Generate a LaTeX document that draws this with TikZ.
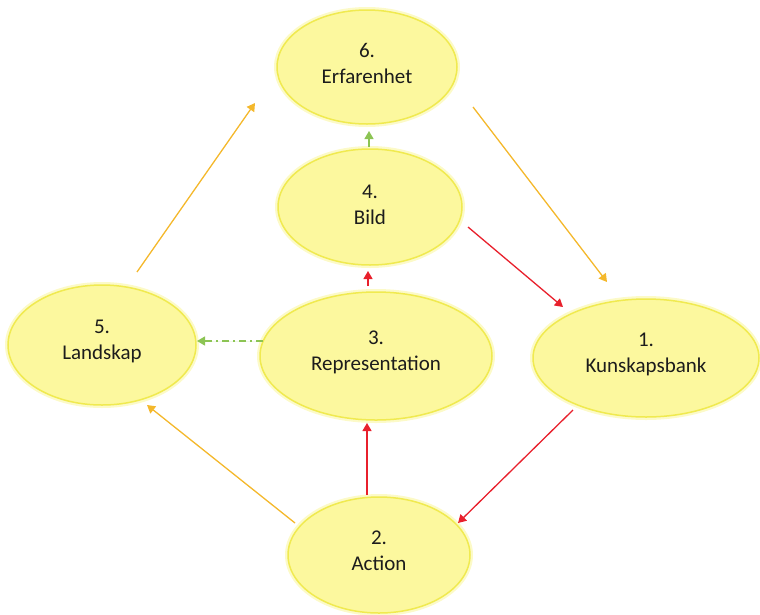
\documentclass[tikz,border=0pt]{standalone}
\usepackage{fontspec}
\setmainfont{Carlito}
\usetikzlibrary{shapes.geometric,arrows.meta}
\definecolor{bubblefill}{RGB}{252,248,158}
\definecolor{bubbleedge}{RGB}{240,234,80}
\definecolor{bubbleglow}{RGB}{252,250,200}
\definecolor{textgray}{RGB}{28,28,28}
\definecolor{arrorange}{RGB}{244,184,44}
\definecolor{arrred}{RGB}{232,32,44}
\definecolor{arrgreen}{RGB}{140,196,84}
\tikzset{
  bubble/.style={ellipse, inner sep=0pt, fill=bubblefill, draw=bubbleedge, line width=1.5pt,
    preaction={draw=bubbleglow, line width=6pt}},
  caption/.style={text=textgray, align=center, font=\fontsize{21}{26}\selectfont, yshift=4pt},
  link/.style={line width=1.3pt, -{Triangle[width=9pt,length=8pt]}},
  orangelink/.style={link, draw=arrorange, fill=arrorange},
  redlink/.style={link, draw=arrred, fill=arrred},
  greenlink/.style={link, draw=arrgreen, fill=arrgreen}
}
\begin{document}
\begin{tikzpicture}[x=1pt,y=-1pt]
  \useasboundingbox (0,0) rectangle (760,614);
  \node[bubble, minimum width=180pt, minimum height=114pt, label={[caption,name=t6]center:{6.\\Erfarenhet}}] (e6) at (367,67) {};
  \node[bubble, minimum width=184pt, minimum height=116pt, label={[caption,name=t4,yshift=-2pt]center:{4.\\Bild}}] (e4) at (370,207) {};
  \node[bubble, minimum width=232pt, minimum height=128pt, label={[caption,name=t3]center:{3.\\Representation}}] (e3) at (376,356) {};
  \node[bubble, minimum width=188pt, minimum height=120pt, label={[caption,name=t5]center:{5.\\Landskap}}] (e5) at (102,345) {};
  \node[bubble, minimum width=226pt, minimum height=118pt, label={[caption,name=t1]center:{1.\\Kunskapsbank}}] (e1) at (646,358) {};
  \node[bubble, minimum width=182pt, minimum height=116pt, label={[caption,name=t2]center:{2.\\Action}}] (e2) at (379,555) {};

  % yellow cycle round the outside
  \draw[orangelink] ([shift={(106,40)}]e6.center) -- ([shift={(-39,-76)}]e1.center);
  \draw[orangelink] ([shift={(35,-73)}]e5.center) -- ([shift={(-112,36)}]e6.center);
  \draw[orangelink] ([shift={(-84,-32)}]e2.center) -- ([shift={(45,60)}]e5.center);

  % red path
  \draw[redlink] ([shift={(-73,52)}]e1.center) -- ([shift={(79,-32)}]e2.center);
  \draw[redlink] ([shift={(-12,-60)}]e2.center) -- ([shift={(-9,67)}]e3.center);
  \draw[redlink] ([shift={(-8,-70)}]e3.center) -- ([shift={(-2,64)}]e4.center);
  \draw[redlink] ([shift={(98,20)}]e4.center) -- ([shift={(-83,-51)}]e1.center);

  % green
  \draw[greenlink] ([shift={(-1,-60)}]e4.center) -- ([shift={(2,64)}]e6.center);
  \draw[greenlink, dash pattern=on 7pt off 4pt on 2pt off 4pt] ([shift={(-113,-15)}]e3.center) -- ([shift={(95,-4)}]e5.center);
\end{tikzpicture}
\end{document}
